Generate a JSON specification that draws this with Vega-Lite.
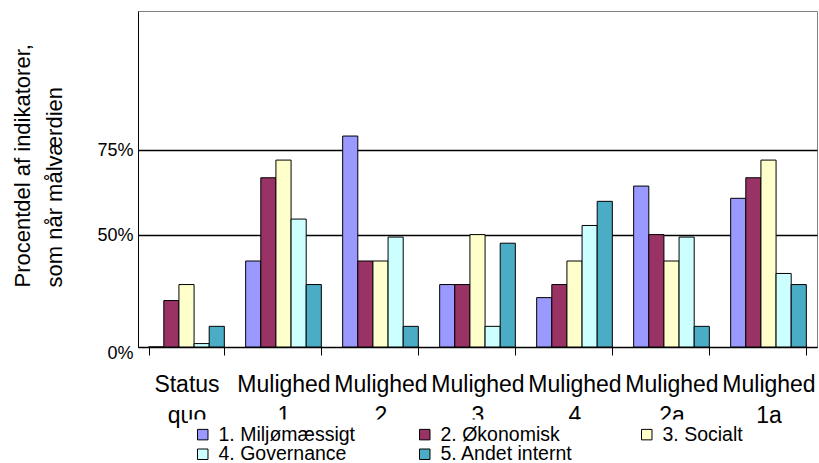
{
  "$schema": "https://vega.github.io/schema/vega-lite/v6.json",
  "width": 679,
  "height": 336,
  "autosize": {"type": "none"},
  "padding": {"left": 138, "top": 11, "right": 2, "bottom": 116},
  "config": {"font": "Liberation Sans", "view": {"stroke": "#808080", "strokeWidth": 1}},
  "data": {"values": [
    {"option": "Status quo", "category": "1. Miljømæssigt", "value": 0},
    {"option": "Status quo", "category": "2. Økonomisk", "value": 26.4},
    {"option": "Status quo", "category": "3. Socialt", "value": 32.7},
    {"option": "Status quo", "category": "4. Governance", "value": 4.0},
    {"option": "Status quo", "category": "5. Andet internt", "value": 14.7},
    {"option": "Mulighed 1", "category": "1. Miljømæssigt", "value": 41.2},
    {"option": "Mulighed 1", "category": "2. Økonomisk", "value": 67.2},
    {"option": "Mulighed 1", "category": "3. Socialt", "value": 72.2},
    {"option": "Mulighed 1", "category": "4. Governance", "value": 54.9},
    {"option": "Mulighed 1", "category": "5. Andet internt", "value": 32.7},
    {"option": "Mulighed 2", "category": "1. Miljømæssigt", "value": 78.8},
    {"option": "Mulighed 2", "category": "2. Økonomisk", "value": 41.2},
    {"option": "Mulighed 2", "category": "3. Socialt", "value": 41.2},
    {"option": "Mulighed 2", "category": "4. Governance", "value": 49.2},
    {"option": "Mulighed 2", "category": "5. Andet internt", "value": 14.7},
    {"option": "Mulighed 3", "category": "1. Miljømæssigt", "value": 32.7},
    {"option": "Mulighed 3", "category": "2. Økonomisk", "value": 32.7},
    {"option": "Mulighed 3", "category": "3. Socialt", "value": 50},
    {"option": "Mulighed 3", "category": "4. Governance", "value": 14.7},
    {"option": "Mulighed 3", "category": "5. Andet internt", "value": 47.2},
    {"option": "Mulighed 4", "category": "1. Miljømæssigt", "value": 27.6},
    {"option": "Mulighed 4", "category": "2. Økonomisk", "value": 32.7},
    {"option": "Mulighed 4", "category": "3. Socialt", "value": 41.2},
    {"option": "Mulighed 4", "category": "4. Governance", "value": 52.9},
    {"option": "Mulighed 4", "category": "5. Andet internt", "value": 60.3},
    {"option": "Mulighed 2a", "category": "1. Miljømæssigt", "value": 64.8},
    {"option": "Mulighed 2a", "category": "2. Økonomisk", "value": 50},
    {"option": "Mulighed 2a", "category": "3. Socialt", "value": 41.2},
    {"option": "Mulighed 2a", "category": "4. Governance", "value": 49.2},
    {"option": "Mulighed 2a", "category": "5. Andet internt", "value": 14.7},
    {"option": "Mulighed 1a", "category": "1. Miljømæssigt", "value": 61.2},
    {"option": "Mulighed 1a", "category": "2. Økonomisk", "value": 67.2},
    {"option": "Mulighed 1a", "category": "3. Socialt", "value": 72.2},
    {"option": "Mulighed 1a", "category": "4. Governance", "value": 36.8},
    {"option": "Mulighed 1a", "category": "5. Andet internt", "value": 32.7}
  ]},
  "mark": {"type": "bar", "stroke": "black", "strokeWidth": 1},
  "encoding": {
    "x": {
      "field": "option", "type": "nominal",
      "sort": ["Status quo", "Mulighed 1", "Mulighed 2", "Mulighed 3", "Mulighed 4", "Mulighed 2a", "Mulighed 1a"],
      "scale": {"paddingInner": 0.22, "paddingOuter": 0.11},
      "axis": {
        "title": null, "labelAngle": 0, "labelFontSize": 23, "labelColor": "black",
        "labelExpr": "datum.value ? split(datum.value, ' ') : ''", "labelBaseline": "top", "labelLineHeight": 31,
        "labelPadding": 18, "tickSize": 8, "tickBand": "extent", "tickColor": "black",
        "domainColor": "black", "labelOverlap": false, "labelBound": false, "labelFlush": false, "grid": false
      }
    },
    "xOffset": {
      "field": "category", "type": "nominal",
      "sort": ["1. Miljømæssigt", "2. Økonomisk", "3. Socialt", "4. Governance", "5. Andet internt"],
      "scale": {"paddingInner": 0, "paddingOuter": 0}
    },
    "y": {
      "field": "value", "type": "quantitative",
      "scale": {"type": "pow", "exponent": 1.384, "domain": [0, 110.3], "nice": false},
      "axis": {
        "values": [0, 50, 75], "labelExpr": "datum.value + '%'",
        "grid": true, "gridColor": "black", "gridWidth": 1.3, "ticks": false,
        "labelFontSize": 18, "labelColor": "black", "labelPadding": 5,
        "labelOffset": {"condition": {"test": "datum.value === 0", "value": 6}, "value": 1},
        "domainColor": "black",
        "title": ["Procentdel af indikatorer,", "som når målværdien"],
        "titleFontSize": 22, "titleFontWeight": "normal", "titleColor": "black",
        "titleX": -108.7, "titleY": 276, "titleAlign": "left", "titleAngle": -90,
        "titleBaseline": "alphabetic", "titleLineHeight": 32.4
      }
    },
    "fill": {
      "field": "category", "type": "nominal",
      "scale": {
        "domain": ["1. Miljømæssigt", "4. Governance", "2. Økonomisk", "5. Andet internt", "3. Socialt"],
        "range": ["#9999FF", "#CCFFFF", "#993366", "#4BACC6", "#FFFFCC"]
      },
      "legend": {
        "title": null, "orient": "none", "legendX": 50, "legendY": 408.5,
        "columns": 3, "columnPadding": 59, "gridAlign": "all", "rowPadding": -1,
        "symbolType": "square", "symbolSize": 110, "symbolStrokeColor": "black", "symbolStrokeWidth": 1,
        "symbolOpacity": 1, "labelFontSize": 19.5, "labelColor": "black", "labelOffset": 6,
        "labelLimit": 300, "padding": 5, "fillColor": "white"
      }
    }
  }
}
